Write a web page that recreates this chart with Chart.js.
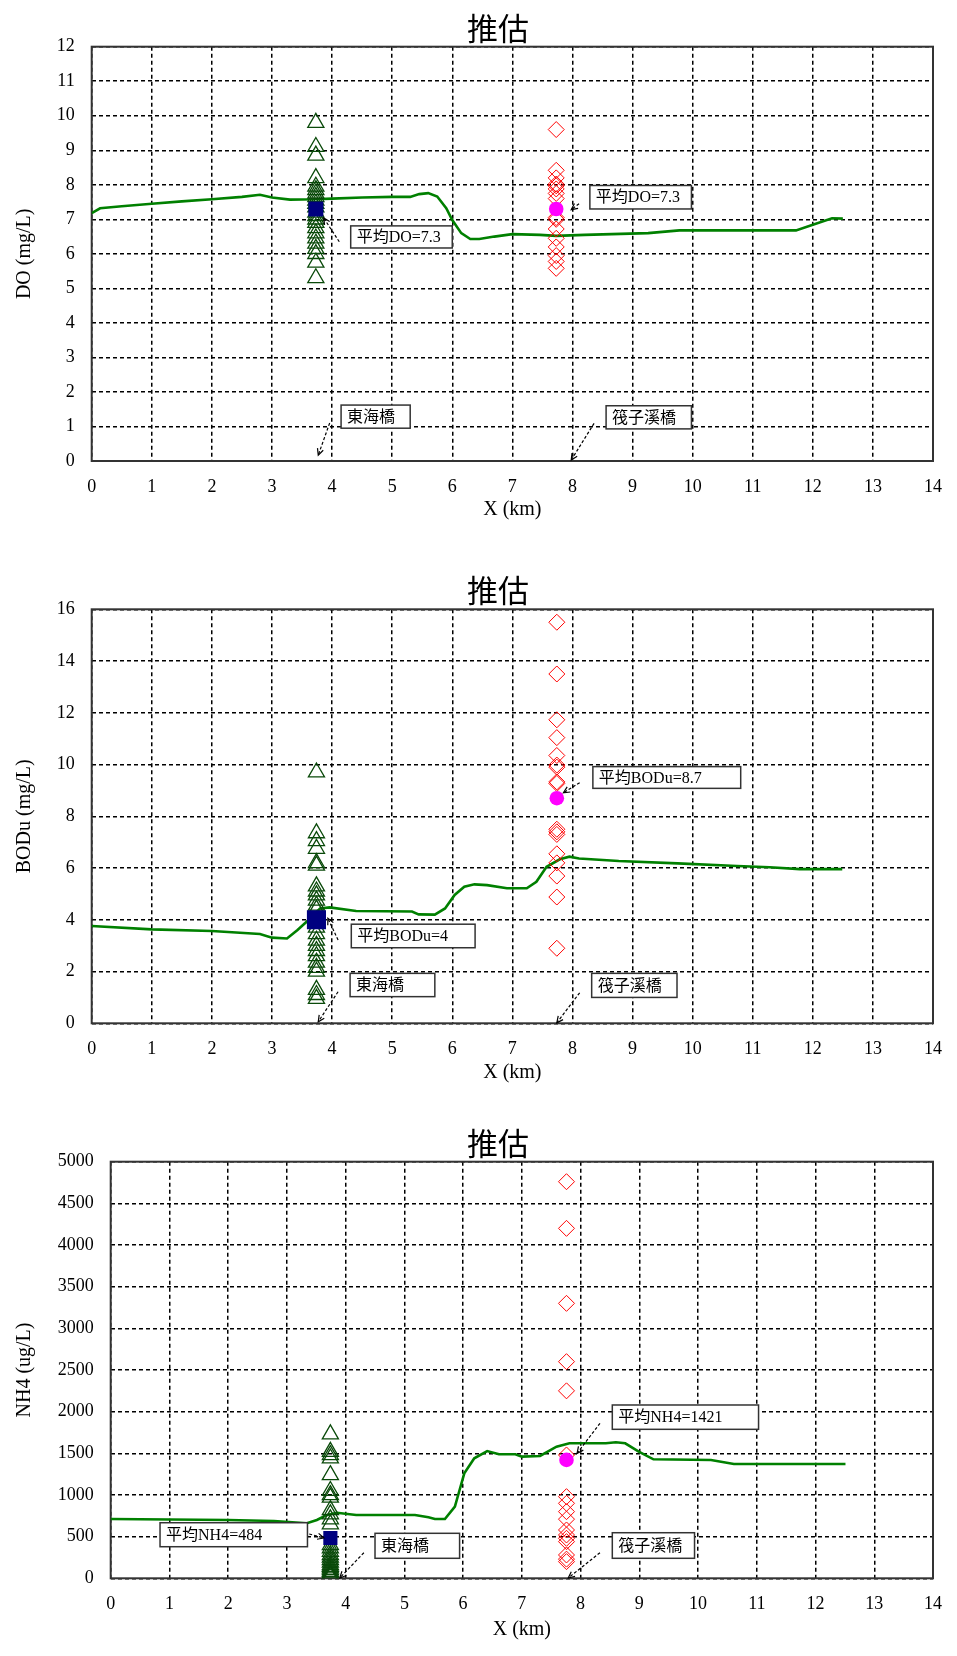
<!DOCTYPE html>
<html>
<head>
<meta charset="utf-8">
<title>推估</title>
<script src="https://cdn.jsdelivr.net/npm/chart.js@4.4.1/dist/chart.umd.min.js"></script>
<style>
  html, body { margin: 0; padding: 0; background: #fff; }
  body { width: 957px; height: 1656px; position: relative; overflow: hidden; }
  canvas { position: absolute; left: 0; }
</style>
</head>
<body>
<canvas id="chartDO" width="957" height="540" style="top:0px"></canvas>
<canvas id="chartBOD" width="957" height="540" style="top:562px"></canvas>
<canvas id="chartNH4" width="957" height="541" style="top:1115px"></canvas>
<script>
const chartTitle = '推估';
const xTitle = 'X (km)';
const kmTicks = [0, 1, 2, 3, 4, 5, 6, 7, 8, 9, 10, 11, 12, 13, 14];

// DO
const doTicks = [0, 1, 2, 3, 4, 5, 6, 7, 8, 9, 10, 11, 12];
const doLineKm  = [0, 0.14, 0.5, 1, 1.5, 2, 2.5, 2.8, 3.0, 3.3, 3.7, 4.0, 4.5, 5.0, 5.3, 5.45, 5.6, 5.75, 5.9, 6.0, 6.15, 6.3, 6.45, 6.7, 7.0, 7.46, 7.73, 8.2, 9.26, 9.78, 11.72, 12.0, 12.32, 12.5];
const doLineVal = [7.18, 7.32, 7.38, 7.45, 7.52, 7.58, 7.65, 7.71, 7.63, 7.57, 7.58, 7.6, 7.63, 7.65, 7.65, 7.73, 7.76, 7.66, 7.32, 6.98, 6.6, 6.43, 6.43, 6.5, 6.57, 6.55, 6.52, 6.55, 6.6, 6.68, 6.68, 6.84, 7.03, 7.02];
const doStationKm = [3.73, 7.73];   // 東海橋, 筏子溪橋
const doDonghai = [9.8, 9.1, 8.85, 8.2, 7.95, 7.85, 7.75, 7.65, 7.55, 7.45, 7.35, 7.2, 7.1, 7.0, 6.9, 6.75, 6.6, 6.45, 6.3, 6.15, 6.0, 5.75, 5.3];
const doFazi = [9.6, 8.42, 8.2, 8.02, 7.97, 7.88, 7.75, 7.6, 7.05, 7.0, 6.72, 6.45, 6.2, 5.95, 5.78, 5.58];
const doMeans = [7.3, 7.3];

// BODu
const bodTicks = [0, 2, 4, 6, 8, 10, 12, 14, 16];
const bodLineKm  = [0, 1, 2, 2.8, 3.0, 3.25, 3.42, 3.64, 3.8, 3.96, 4.4, 5.33, 5.44, 5.71, 5.88, 6.04, 6.2, 6.37, 6.58, 6.91, 7.24, 7.4, 7.57, 7.79, 7.95, 8.11, 8.77, 9.75, 10.74, 11.28, 11.78, 12.49];
const bodLineVal = [3.76, 3.63, 3.57, 3.45, 3.31, 3.28, 3.6, 4.06, 4.44, 4.48, 4.34, 4.32, 4.21, 4.2, 4.44, 4.96, 5.28, 5.37, 5.34, 5.22, 5.22, 5.47, 6.05, 6.34, 6.44, 6.37, 6.27, 6.18, 6.08, 6.03, 5.96, 5.96];
const bodStationKm = [3.74, 7.74];
const bodDonghai = [9.7, 7.35, 7.05, 6.75, 6.2, 6.1, 5.3, 5.1, 4.95, 4.75, 4.55, 4.4, 3.7, 3.45, 3.2, 3.0, 2.8, 2.6, 2.35, 2.15, 2.0, 1.3, 1.1, 0.95];
const bodFazi = [15.5, 13.5, 11.73, 11.04, 10.35, 9.98, 9.9, 9.33, 9.27, 7.5, 7.4, 7.3, 6.55, 6.2, 5.69, 4.88, 2.9];
const bodMeans = [4, 8.7];

// NH4
const nh4Ticks = [0, 500, 1000, 1500, 2000, 2500, 3000, 3500, 4000, 4500, 5000];
const nh4LineKm  = [0, 2, 2.78, 3.34, 3.51, 3.68, 3.85, 4.18, 5.18, 5.41, 5.52, 5.69, 5.86, 5.94, 6.02, 6.19, 6.41, 6.61, 6.89, 7.0, 7.31, 7.59, 7.81, 8.43, 8.6, 8.76, 8.99, 9.24, 10.22, 10.61, 12.51];
const nh4LineVal = [712, 700, 688, 660, 700, 760, 787, 760, 760, 732, 712, 712, 860, 1060, 1260, 1440, 1527, 1488, 1488, 1460, 1468, 1580, 1620, 1620, 1632, 1620, 1520, 1428, 1420, 1372, 1372];
const nh4StationKm = [3.74, 7.76];
const nh4Donghai = [1730, 1520, 1480, 1440, 1240, 1050, 1000, 970, 820, 770, 710, 650, 400, 360, 320, 280, 250, 220, 190, 160, 140, 120, 100, 80, 60, 50, 40, 30, 20];
const nh4Fazi = [4760, 4200, 3300, 2600, 2250, 1480, 980, 900, 800, 710, 580, 520, 480, 440, 280, 230, 200];
const nh4Means = [484, 1421];

// annotation boxes / arrows, in data units: box [x1, yTop, x2, yBottom], arrow [fromX, fromY, toX, toY]
const doNotes = [
  { text: '平均DO=' + doMeans[0], box: [4.31, 6.81, 6.0, 6.17], arrow: [4.12, 6.35, 3.86, 7.04] },
  { text: '平均DO=' + doMeans[1], box: [8.29, 7.98, 9.98, 7.30], arrow: [8.11, 7.45, 7.98, 7.28] },
  { text: '東海橋', box: [4.15, 1.62, 5.30, 0.95], arrow: [3.96, 1.10, 3.77, 0.17] },
  { text: '筏子溪橋', box: [8.56, 1.60, 9.98, 0.93], arrow: [8.36, 1.09, 7.98, 0.03] }
];
const bodNotes = [
  { text: '平均BODu=' + bodMeans[0], box: [4.32, 3.83, 6.38, 2.92], arrow: [4.10, 3.22, 3.93, 4.06] },
  { text: '東海橋', box: [4.30, 1.93, 5.71, 1.03], arrow: [4.10, 1.22, 3.77, 0.06] },
  { text: '平均BODu=' + bodMeans[1], box: [8.34, 9.92, 10.80, 9.08], arrow: [8.12, 9.30, 7.85, 8.91] },
  { text: '筏子溪橋', box: [8.32, 1.93, 9.74, 1.00], arrow: [8.12, 1.18, 7.74, 0.02] }
];
const nh4Notes = [
  { text: '平均NH4=' + nh4Means[0], box: [0.84, 667, 3.35, 379], arrow: [3.38, 532, 3.63, 484] },
  { text: '東海橋', box: [4.50, 540, 5.94, 240], arrow: [4.31, 307, 3.90, 4] },
  { text: '平均NH4=' + nh4Means[1], box: [8.54, 2080, 11.03, 1788], arrow: [8.33, 1860, 7.94, 1500] },
  { text: '筏子溪橋', box: [8.54, 547, 9.94, 240], arrow: [8.33, 307, 7.79, 4] }
];

const serif = "'Liberation Serif', 'Times New Roman', 'Noto Sans CJK TC', serif";
const cjk = "'Noto Sans CJK TC', 'Noto Sans CJK SC', sans-serif";

function pts(kms, vals) { return kms.map((k, i) => ({ x: k, y: vals[i] })); }
function column(km, vals) { return vals.map(v => ({ x: km, y: v })); }

function drawArrow(ctx, x1, y1, x2, y2) {
  ctx.strokeStyle = '#000';
  ctx.lineWidth = 1.2;
  ctx.setLineDash([3, 2]);
  ctx.beginPath(); ctx.moveTo(x1, y1); ctx.lineTo(x2, y2); ctx.stroke();
  ctx.setLineDash([]);
  const a = Math.atan2(y2 - y1, x2 - x1);
  const h = 7;
  ctx.beginPath();
  ctx.moveTo(x2 - h * Math.cos(a - 0.45), y2 - h * Math.sin(a - 0.45));
  ctx.lineTo(x2, y2);
  ctx.lineTo(x2 - h * Math.cos(a + 0.45), y2 - h * Math.sin(a + 0.45));
  ctx.stroke();
}

const framePlugin = {
  id: 'frame',
  beforeDatasetsDraw(chart) {
    const { ctx, chartArea: a } = chart;
    ctx.save();
    ctx.strokeStyle = '#333';
    ctx.lineWidth = 2;
    ctx.strokeRect(a.left, a.top, a.right - a.left, a.bottom - a.top);
    ctx.restore();
  }
};

const notesPlugin = {
  id: 'notes',
  afterDraw(chart, args, opts) {
    const { ctx, scales: { x, y } } = chart;
    ctx.save();
    ctx.fillStyle = '#000';
    ctx.font = '31px ' + cjk;
    ctx.textAlign = 'center';
    ctx.textBaseline = 'middle';
    ctx.fillText(opts.title, opts.titleX, opts.titleY);

    ctx.font = '16px ' + serif;
    ctx.textAlign = 'left';
    opts.items.forEach(n => {
      const l = x.getPixelForValue(n.box[0]), t = y.getPixelForValue(n.box[1]);
      const r = x.getPixelForValue(n.box[2]), b = y.getPixelForValue(n.box[3]);
      ctx.fillStyle = '#fff';
      ctx.fillRect(l, t, r - l, b - t);
      ctx.strokeStyle = '#333';
      ctx.lineWidth = 1.5;
      ctx.strokeRect(l, t, r - l, b - t);
      ctx.fillStyle = '#000';
      ctx.fillText(n.text, l + 6, (t + b) / 2 + 1);
      drawArrow(ctx,
        x.getPixelForValue(n.arrow[0]), y.getPixelForValue(n.arrow[1]),
        x.getPixelForValue(n.arrow[2]), y.getPixelForValue(n.arrow[3]));
    });
    ctx.restore();
  }
};

function makeChart(id, o) {
  return new Chart(document.getElementById(id), {
    type: 'scatter',
    data: {
      datasets: [
        { data: [{ x: o.stations[0], y: o.means[0] }], pointStyle: 'rect', pointRadius: o.squareR,
          pointBackgroundColor: '#000080', pointBorderColor: '#000080', pointBorderWidth: 0, order: 1 },
        { data: [{ x: o.stations[1], y: o.means[1] }], pointStyle: 'circle', pointRadius: 7.3,
          pointBackgroundColor: '#ff00ff', pointBorderColor: '#ff00ff', pointBorderWidth: 0, order: 2 },
        { data: column(o.stations[1], o.fazi), pointStyle: 'rectRot', pointRadius: 8,
          pointBackgroundColor: 'rgba(0,0,0,0)', pointBorderColor: '#ff0000', pointBorderWidth: 1, order: 3 },
        { data: column(o.stations[0], o.donghai), pointStyle: 'triangle', pointRadius: 9.3,
          pointBackgroundColor: 'rgba(0,0,0,0)', pointBorderColor: '#0a4a0a', pointBorderWidth: 1.3, order: 4 },
        { data: pts(o.lineKm, o.lineVal), showLine: true, borderColor: '#008000', borderWidth: 2.6,
          pointRadius: 0, fill: false, order: 5 }
      ]
    },
    options: {
      responsive: false,
      animation: false,
      events: [],
      layout: { padding: o.pad },
      plugins: {
        legend: { display: false },
        tooltip: { enabled: false },
        notes: { title: chartTitle, titleX: 498, titleY: 28, items: o.notes }
      },
      scales: {
        x: {
          type: 'linear', min: 0, max: 14,
          afterBuildTicks: s => { s.ticks = kmTicks.map(v => ({ value: v })); },
          afterFit: s => { s.height = 63; },
          grid: { color: '#000', lineWidth: 1.5, drawTicks: false },
          border: { display: false, dash: [4, 3] },
          ticks: { color: '#000', font: { family: serif, size: 18 }, padding: 15, maxRotation: 0, autoSkip: false,
                   callback: v => String(v) },
          title: { display: true, text: xTitle, color: '#000', font: { family: serif, size: 20 },
                   padding: { top: 0, bottom: o.xTitlePad } }
        },
        y: {
          type: 'linear', min: 0, max: o.yTicks[o.yTicks.length - 1],
          afterBuildTicks: s => { s.ticks = o.yTicks.map(v => ({ value: v })); },
          afterFit: s => { s.width = o.yWidth; },
          grid: { color: '#000', lineWidth: 1.5, drawTicks: false },
          border: { display: false, dash: [4, 3] },
          ticks: { color: '#000', font: { family: serif, size: 18 }, padding: 17, autoSkip: false,
                   callback: v => String(v) },
          title: { display: true, text: o.yTitle, color: '#000', font: { family: serif, size: 20 },
                   padding: { top: 13, bottom: 0 } }
        }
      }
    },
    plugins: [framePlugin, notesPlugin]
  });
}

makeChart('chartDO', {
  yTicks: doTicks, yTitle: 'DO (mg/L)', yWidth: 91.7,
  pad: { left: 0, right: 11.3, top: 46.7, bottom: 16 }, xTitlePad: 2, squareR: 10.6,
  lineKm: doLineKm, lineVal: doLineVal, stations: doStationKm,
  donghai: doDonghai, fazi: doFazi, means: doMeans, notes: doNotes
});

makeChart('chartBOD', {
  yTicks: bodTicks, yTitle: 'BODu (mg/L)', yWidth: 91.7,
  pad: { left: 0, right: 11.3, top: 47.3, bottom: 15.7 }, xTitlePad: 2, squareR: 13.5,
  lineKm: bodLineKm, lineVal: bodLineVal, stations: bodStationKm,
  donghai: bodDonghai, fazi: bodFazi, means: bodMeans, notes: bodNotes
});

makeChart('chartNH4', {
  yTicks: nh4Ticks, yTitle: 'NH4 (ug/L)', yWidth: 110.7,
  pad: { left: 0, right: 11.3, top: 46.7, bottom: 14.7 }, xTitlePad: 0, squareR: 10,
  lineKm: nh4LineKm, lineVal: nh4LineVal, stations: nh4StationKm,
  donghai: nh4Donghai, fazi: nh4Fazi, means: nh4Means, notes: nh4Notes
});
</script>
</body>
</html>
